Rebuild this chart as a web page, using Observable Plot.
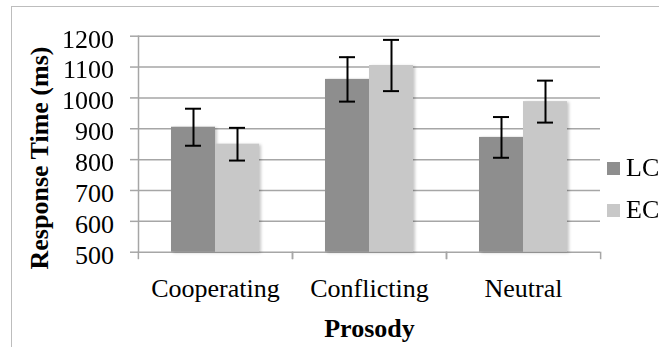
<!DOCTYPE html>
<html><head><meta charset="utf-8">
<script src="https://cdn.jsdelivr.net/npm/d3@7"></script>
<script src="https://cdn.jsdelivr.net/npm/@observablehq/plot@0.6"></script>
<style>
html,body{margin:0;padding:0;background:#fff;}
#wrap{position:relative;width:659px;height:347px;overflow:hidden;font-family:"Liberation Serif";}
#border{position:absolute;left:10.5px;top:5.5px;width:700px;height:400px;border-left:1.5px solid #bdbdbd;border-top:1.5px solid #bdbdbd;}
#chart{position:absolute;left:0;top:0;}
#legend{position:absolute;left:607px;top:153px;width:60px;}
#legend .lg-swatches{font-family:"Liberation Serif" !important;font-size:26px !important;margin:0 !important;min-height:0 !important;color:#000;}
#legend .lg-swatch{padding-bottom:12px !important;line-height:30px;}
#legend .lg-swatch svg{margin-right:6px !important;}
#legend .lg-swatch::before{display:none !important;}
#chart g[aria-label="bar"]{filter:drop-shadow(2px 1px 1.5px rgba(0,0,0,0.22));}
#chart text{font-family:"Liberation Serif";}
</style></head><body><div id="wrap"><div id="border"></div><div id="chart"></div><div id="legend"></div></div>
<script>
const categories = ["Cooperating", "Conflicting", "Neutral"];
const series = ["LC", "EC"];
const lcValues = [905, 1060, 872];
const ecValues = [850, 1105, 988];
const lcErrors = [60, 72, 66];
const ecErrors = [53, 83, 68];
const yTicks = [500, 600, 700, 800, 900, 1000, 1100, 1200];
const colors = ["#8e8e8e", "#c8c8c8"];
const yTitle = "Response Time (ms)";
const xTitle = "Prosody";

const rows = categories.flatMap((c, i) => [
  {category: c, series: "LC", value: lcValues[i], err: lcErrors[i]},
  {category: c, series: "EC", value: ecValues[i], err: ecErrors[i]}
]);

const W = 659, H = 347, mL = 138, mR = 58.3, mT = 35.7, mB = 95.3;
const halfStep = (W - mL - mR) / categories.length / 2;
const grid = "#a6a6a6";
const font = "Liberation Serif";

const plot = Plot.plot({
  width: W, height: H, marginLeft: mL, marginRight: mR, marginTop: mT, marginBottom: mB,
  style: {fontFamily: font, fontSize: "26px", background: "transparent", overflow: "visible"},
  fx: {domain: categories, padding: 0, label: null},
  x: {domain: series, paddingInner: 0, paddingOuter: 0.75, axis: null},
  y: {domain: [yTicks[0], yTicks[yTicks.length - 1]], label: null},
  color: {domain: series, range: colors},
  marks: [
    Plot.ruleY(yTicks, {stroke: grid, strokeWidth: 1.5}),
    Plot.barY(rows, {fx: "category", x: "series", y1: yTicks[0], y2: "value", fill: "series"}),
    Plot.ruleX(rows, {fx: "category", x: "series", y1: d => d.value - d.err, y2: d => d.value + d.err, stroke: "black", strokeWidth: 2}),
    Plot.tickY(rows, {fx: "category", x: "series", y: d => d.value - d.err, inset: 14, stroke: "black", strokeWidth: 2}),
    Plot.tickY(rows, {fx: "category", x: "series", y: d => d.value + d.err, inset: 14, stroke: "black", strokeWidth: 2}),
    Plot.frame({anchor: "left", facet: "super", stroke: grid, strokeWidth: 1.5}),
    Plot.axisY(yTicks, {tickSize: 8, stroke: grid, strokeWidth: 1.5, fill: "none", label: null}),
    Plot.axisY(yTicks, {tickSize: 0, tickPadding: 24.5, dy: 3, fill: "black", fontSize: 26, fontFamily: font, fontVariant: "normal", tickFormat: d => String(d), label: null}),
    Plot.axisFx({anchor: "bottom", tickSize: 7.5, dx: -halfStep, stroke: grid, strokeWidth: 1.5, fill: "none", label: null}),
    Plot.axisFx([categories[categories.length - 1]], {anchor: "bottom", tickSize: 7.5, dx: halfStep, stroke: grid, strokeWidth: 1.5, fill: "none", label: null}),
    Plot.axisFx({anchor: "bottom", tickSize: 0, tickPadding: 26.5, fill: "black", fontSize: 26, fontFamily: font, label: null}),
    Plot.text([yTitle], {text: d => d, facet: "super", frameAnchor: "left", textAnchor: "middle", lineAnchor: "middle", rotate: -90, dx: -99.3, dy: 13.8, fontWeight: "bold", fontSize: 26, fontFamily: font, fill: "black"}),
    Plot.text([xTitle], {text: d => d, facet: "super", frameAnchor: "bottom", textAnchor: "middle", lineAnchor: "middle", dy: 76, fontWeight: "bold", fontSize: 26, fontFamily: font, fill: "black"})
  ]
});
document.getElementById("chart").appendChild(plot);
const leg = plot.legend("color", {legend: "swatches", columns: 1, swatchSize: 13, className: "lg"});
document.getElementById("legend").appendChild(leg);
</script>
</body></html>
